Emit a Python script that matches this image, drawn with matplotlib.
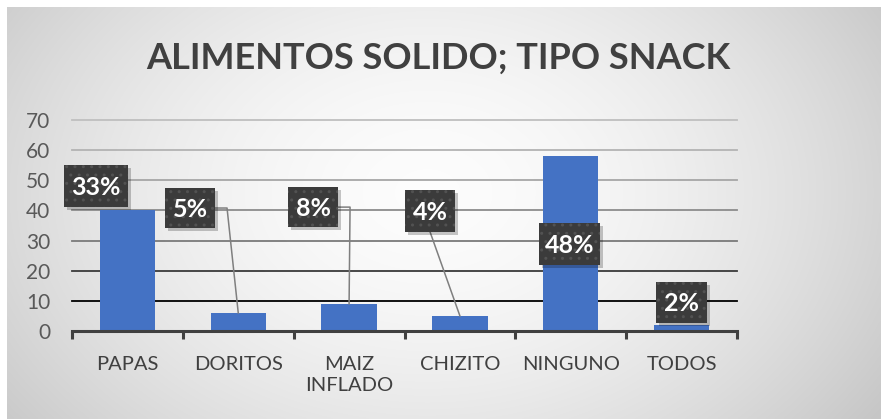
import numpy as np
import matplotlib
matplotlib.use("Agg")
import matplotlib.pyplot as plt
from matplotlib.patches import Rectangle

# ---- data ----
categories = ["PAPAS", "DORITOS", "MAIZ\nINFLADO", "CHIZITO", "NINGUNO", "TODOS"]
values = [40, 6, 9, 5, 58, 2]
pct_labels = ["33%", "5%", "8%", "4%", "48%", "2%"]
title = "ALIMENTOS SOLIDO; TIPO SNACK"
yticks = [0, 10, 20, 30, 40, 50, 60, 70]

# ---- layout (label box centres in data coords, sizes in px) ----
label_pos = [(-0.283, 48.1), (0.565, 40.8), (1.675, 41.1), (2.731, 39.8), (3.99, 28.9), (5.0, 9.5)]
label_size = [(64, 42), (50, 40), (50, 40), (50, 42), (61, 42), (51, 41)]
leader = [None, "elbow", "elbow", "bottom", None, None]

plt.rcParams['font.family'] = ['Lato', 'DejaVu Sans']

W, H = 881, 419
fig = plt.figure(figsize=(W / 100, H / 100), dpi=100)
fig.patch.set_facecolor('white')

# background gradient
bg = fig.add_axes([7 / W, 0, (W - 7) / W, (H - 7) / H], zorder=-10)
ny, nx = 200, 400
yy, xx = np.mgrid[0:ny, 0:nx]
cx, cy = nx * 0.48, ny * 0.45
r = np.sqrt(((xx - cx) / (nx * 0.62)) ** 2 + ((yy - cy) / (ny * 0.95)) ** 2)
r = np.clip(r, 0, 1)
val = 0.99 - (0.99 - 0.78) * r ** 1.7
bg.imshow(np.dstack([val, val, val]), aspect='auto', extent=[0, 1, 0, 1], interpolation='bilinear')
bg.axis('off')

# main axes
x0, x1 = 72, 737
y0px, y70px = 331, 120
ax = fig.add_axes([x0 / W, 1 - y0px / H, (x1 - x0) / W, (y0px - y70px) / H])
ax.set_facecolor('none')
n = len(categories)
ax.set_xlim(-0.5, n - 0.5)
ax.set_ylim(0, 70)

grid_colors = ['#000000', '#3a3a3a', '#7a7a7a', '#8c8c8c', '#a6a6a6', '#b3b3b3', '#bfbfbf']
for yv, c in zip(yticks[1:], grid_colors):
    ax.axhline(yv, color=c, lw=1.3, zorder=1, clip_on=False)

xs = np.arange(n)
ax.bar(xs, values, width=0.5, color='#4472C4', zorder=2)

for s in ['top', 'right', 'left']:
    ax.spines[s].set_visible(False)
ax.spines['bottom'].set_color('#404040')
ax.spines['bottom'].set_linewidth(2.2)
ax.spines['bottom'].set_zorder(3)

ax.set_xticks(np.arange(-0.5, n, 1.0))
ax.set_xticklabels([])
ax.tick_params(axis='x', which='major', length=6, width=2.2, color='#404040', direction='out')
ax.set_xticks(xs, minor=True)
ax.set_xticklabels(categories, minor=True, fontsize=14.5, color='#404040', linespacing=1.3, va='top')
ax.tick_params(axis='x', which='minor', length=0, pad=18)

ax.set_yticks(yticks)
ax.set_yticklabels([str(v) for v in yticks], fontsize=15, color='#595959')
ax.tick_params(axis='y', length=0, pad=15.5)

# px -> data conversion
px_x = (n) / (x1 - x0)
px_y = 70 / (y0px - y70px)

for i, (lbl, (cxl, cyl), (bw, bh), ld) in enumerate(zip(pct_labels, label_pos, label_size, leader)):
    w = bw * px_x
    h = bh * px_y
    left, bottom = cxl - w / 2, cyl - h / 2
    # leader line
    if ld == "elbow":
        ex = left + w + 12 * px_x
        ax.plot([left + w, ex, i], [cyl, cyl, values[i]], color='#7f7f7f', lw=1.1, zorder=4)
    elif ld == "bottom":
        ax.plot([cxl, i], [bottom, values[i]], color='#7f7f7f', lw=1.1, zorder=4)
    # shadow
    ax.add_patch(Rectangle((left + 3 * px_x, bottom - 3 * px_y), w, h, facecolor='black',
                           alpha=0.22, lw=0, zorder=5, clip_on=False))
    ax.add_patch(Rectangle((left, bottom), w, h, facecolor='#3b3b3b', lw=0, zorder=6, clip_on=False))
    ax.add_patch(Rectangle((left, bottom), w, h, facecolor='none', edgecolor='#525252', hatch='..',
                           lw=0, zorder=7, clip_on=False))
    ax.text(cxl, cyl - 0.4, lbl, ha='center', va='center', color='white', fontsize=18,
            fontweight='bold', zorder=8)

fig.text(0.498, 1 - 58 / H, title, ha='center', va='center', fontsize=26, fontweight='bold',
         color='#404040')

fig.savefig('out.png', dpi=100, facecolor='white')
